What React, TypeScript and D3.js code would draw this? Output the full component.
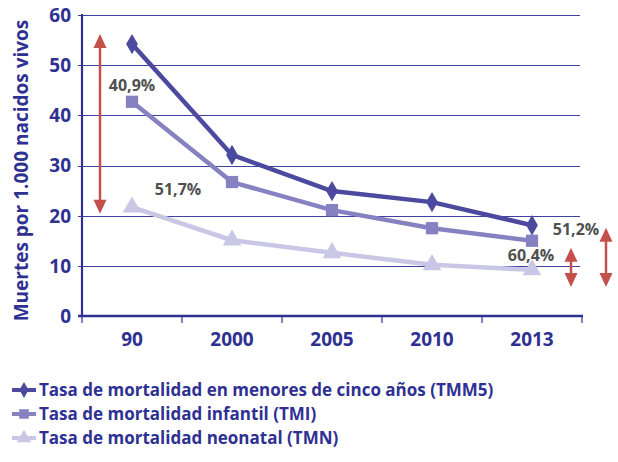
import React, { useEffect, useRef } from 'react';
import * as d3 from 'd3';

const years = ['90', '2000', '2005', '2010', '2013'];
const tmm5 = [54.2, 32.1, 24.9, 22.7, 18.1];
const tmi = [42.7, 26.7, 21.1, 17.5, 15.0];
const tmn = [21.7, 15.1, 12.6, 10.2, 9.2];
const yTicks = [0, 10, 20, 30, 40, 50, 60];

const seriesNames = [
  'Tasa de mortalidad en menores de cinco años (TMM5)',
  'Tasa de mortalidad infantil (TMI)',
  'Tasa de mortalidad neonatal (TMN)',
];
const seriesColors = ['#4b4a9f', '#8682c2', '#c9c7e5'];
const seriesShapes = ['diamond', 'square', 'triangle'];

// reduction labels placed near their series
const reductionLabels = [
  { year: '90', value: 46, dx: 0, text: '40,9%' },
  { year: '90', value: 25.2, dx: 46, text: '51,7%' },
  { year: '2013', value: 17.2, dx: 44, text: '51,2%' },
  { year: '2013', value: 12.2, dx: -1, text: '60,4%' },
];

const W = 618;
const H = 462;
const NAVY = '#2e3192';
const RED = '#c4504b';
const FONT = '"Open Sans", "Noto Sans", sans-serif';

const App: React.FC = () => {
  const svgRef = useRef<SVGSVGElement>(null);

  useEffect(() => {
    if (!svgRef.current) return;
    const svg = d3.select(svgRef.current);
    svg.selectAll('*').remove();

    const x = d3.scaleBand().domain(years).range([82, 582]);
    const y = d3.scaleLinear().domain([0, 60]).range([316, 15]);
    const cx = (d: string) => (x(d) as number) + x.bandwidth() / 2;

    // gridlines
    svg.append('g')
      .selectAll('line')
      .data(yTicks.filter(t => t > 0))
      .join('line')
      .attr('x1', 78)
      .attr('x2', 580)
      .attr('y1', d => Math.round(y(d)) + 0.5)
      .attr('y2', d => Math.round(y(d)) + 0.5)
      .attr('stroke', '#4040a0')
      .attr('stroke-width', 1.2);

    // axes
    svg.append('line')
      .attr('x1', 82).attr('x2', 82)
      .attr('y1', 14).attr('y2', 317)
      .attr('stroke', NAVY).attr('stroke-width', 2.2);
    svg.append('line')
      .attr('x1', 78).attr('x2', 583)
      .attr('y1', 316).attr('y2', 316)
      .attr('stroke', NAVY).attr('stroke-width', 2.5);
    const bounds = years.map(d => x(d) as number).concat([582]);
    svg.append('g')
      .selectAll('line')
      .data(bounds)
      .join('line')
      .attr('x1', d => d).attr('x2', d => d)
      .attr('y1', 316).attr('y2', 323)
      .attr('stroke', NAVY).attr('stroke-width', 1.2);

    // y tick labels
    svg.append('g')
      .selectAll('text')
      .data(yTicks)
      .join('text')
      .attr('x', 71)
      .attr('y', d => y(d))
      .attr('dy', '0.36em')
      .attr('text-anchor', 'end')
      .attr('font-family', FONT)
      .attr('font-weight', 'bold')
      .attr('font-size', 19)
      .attr('fill', NAVY)
      .text(d => d);

    // x tick labels
    svg.append('g')
      .selectAll('text')
      .data(years)
      .join('text')
      .attr('x', d => cx(d))
      .attr('y', 346)
      .attr('text-anchor', 'middle')
      .attr('font-family', FONT)
      .attr('font-weight', 'bold')
      .attr('font-size', 19)
      .attr('fill', NAVY)
      .text(d => d);

    // y axis title
    svg.append('text')
      .attr('transform', `translate(28, ${y(30) + 5}) rotate(-90)`)
      .attr('text-anchor', 'middle')
      .attr('font-family', FONT)
      .attr('font-weight', 'bold')
      .attr('font-size', 19)
      .attr('fill', NAVY)
      .text('Muertes por 1.000 nacidos vivos');

    // series
    const all = [tmm5, tmi, tmn];
    const line = d3.line<number>()
      .x((_, i) => cx(years[i]))
      .y(d => y(d));
    const symbolFor = (s: string) =>
      s === 'diamond' ? d3.symbolDiamond : s === 'square' ? d3.symbolSquare : d3.symbolTriangle;
    const sizeFor = (s: string) => (s === 'diamond' ? 120 : s === 'square' ? 150 : 150);

    all.slice().reverse().forEach((vals, ri) => {
      const i = all.length - 1 - ri;
      const g = svg.append('g');
      g.append('path')
        .attr('d', line(vals) as string)
        .attr('fill', 'none')
        .attr('stroke', seriesColors[i])
        .attr('stroke-width', 4.5)
        .attr('stroke-linejoin', 'round');
      g.selectAll('path.m')
        .data(vals)
        .join('path')
        .attr('class', 'm')
        .attr('transform', (d, j) => `translate(${cx(years[j])},${y(d)})`)
        .attr('d', d3.symbol().type(symbolFor(seriesShapes[i])).size(sizeFor(seriesShapes[i]))() as string)
        .attr('fill', seriesColors[i]);
    });

    // red double arrows
    const arrow = (ax: number, v1: number, v2: number) => {
      const top = y(v1);
      const bot = y(v2);
      const g = svg.append('g').attr('fill', RED);
      g.append('line')
        .attr('x1', ax).attr('x2', ax)
        .attr('y1', top + 10).attr('y2', bot - 10)
        .attr('stroke', RED).attr('stroke-width', 2.5);
      g.append('path').attr('d', `M${ax},${top} L${ax - 6.5},${top + 14} L${ax + 6.5},${top + 14} Z`);
      g.append('path').attr('d', `M${ax},${bot} L${ax - 6.5},${bot - 14} L${ax + 6.5},${bot - 14} Z`);
    };
    arrow(100, 56.2, 20.4);
    arrow(571, 13.6, 5.8);
    arrow(606, 17.6, 5.8);

    // percentage labels
    svg.append('g')
      .selectAll('text')
      .data(reductionLabels)
      .join('text')
      .attr('x', d => cx(d.year) + d.dx)
      .attr('y', d => y(d.value))
      .attr('dy', '0.36em')
      .attr('text-anchor', 'middle')
      .attr('font-family', FONT)
      .attr('font-weight', 'bold')
      .attr('font-size', 16)
      .attr('fill', '#505050')
      .text(d => d.text);

    // legend
    const lg = svg.append('g');
    seriesNames.forEach((name, i) => {
      const ly = 390 + i * 24;
      lg.append('line')
        .attr('x1', 12).attr('x2', 36)
        .attr('y1', ly).attr('y2', ly)
        .attr('stroke', seriesColors[i]).attr('stroke-width', 4);
      lg.append('path')
        .attr('transform', `translate(24,${ly})`)
        .attr('d', d3.symbol().type(symbolFor(seriesShapes[i])).size(sizeFor(seriesShapes[i]) * 0.6)() as string)
        .attr('fill', seriesColors[i]);
      lg.append('text')
        .attr('x', 39)
        .attr('y', ly)
        .attr('dy', '0.36em')
        .attr('font-family', FONT)
        .attr('font-weight', 'bold')
        .attr('font-size', 17)
        .attr('fill', NAVY)
        .text(name);
    });
  }, []);

  return (
    <svg
      ref={svgRef}
      width={W}
      height={H}
      style={{ position: 'absolute', left: 0, top: 0, background: '#fff' }}
    />
  );
};

export default App;
